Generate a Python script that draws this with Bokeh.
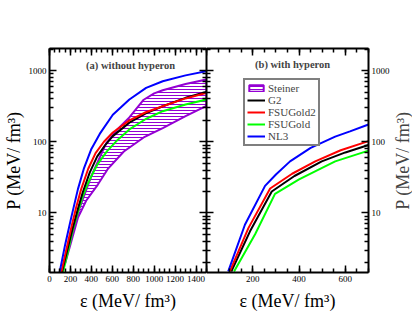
import math
from bokeh.plotting import figure
from bokeh.layouts import row
from bokeh.models import (Range1d, LinearAxis, LogAxis, FixedTicker, SingleIntervalTicker,
                          Legend, LegendItem, Label, NumeralTickFormatter)
from bokeh.embed import file_html
from bokeh.resources import INLINE

FONT = "Liberation Serif"

# ---------------- data (energy density MeV/fm^3, pressure MeV/fm^3) ----------------
# (a) without hyperon
NL3_A_E = [95, 150, 207, 271, 330, 400, 480, 605, 763, 923, 1082, 1300, 1500]
NL3_A_P = [1.42, 3.6, 8.5, 21.4, 42.7, 79.4, 129, 240, 393, 573, 711, 859, 984]
FSUG2_A_E = [112, 160, 207, 255, 302, 370, 440, 520, 605, 763, 920, 1082, 1300, 1500]
FSUG2_A_P = [1.45, 3.0, 6.1, 12.0, 21.4, 41.7, 69.2, 100, 135, 200, 260, 316, 407, 488]
G2_A_E = [118, 170, 220, 270, 318, 385, 455, 530, 605, 763, 920, 1082, 1300, 1500]
G2_A_P = [1.45, 3.0, 6.0, 11.2, 19.5, 37.2, 61.7, 89, 120, 186, 251, 316, 415, 502]
FSUG_A_E = [128, 175, 225, 271, 320, 366, 415, 462, 550, 653, 763, 920, 1082, 1300, 1500]
FSUG_A_P = [1.45, 2.8, 5.9, 10.2, 17.4, 25.7, 36.3, 49, 74, 107, 149, 209, 269, 335, 393]
STEINER_UP_E = [150, 271, 400, 541, 650, 763, 900, 1000, 1082, 1300, 1500]
STEINER_UP_P = [1.96, 10, 33, 95, 150, 220, 390, 480, 530, 650, 751]
STEINER_LO_E = [150, 271, 350, 462, 560, 710, 900, 1082, 1300, 1500]
STEINER_LO_P = [1.96, 8.5, 14.8, 25, 42, 73, 115, 156, 230, 320]

# (b) with hyperon
NL3_B_E = [94, 166, 253, 300, 361, 450, 556, 620, 700]
NL3_B_P = [1.5, 6.8, 24, 34.7, 53, 82, 118, 140, 175]
FSUG2_B_E = [101, 181, 275, 370, 470, 580, 700]
FSUG2_B_P = [1.5, 6.1, 22, 35.5, 53, 76, 102]
G2_B_E = [107, 188, 282, 380, 498, 600, 700]
G2_B_P = [1.5, 5.5, 20, 33, 53, 70.8, 90]
FSUG_B_E = [119, 210, 296, 400, 480, 556, 700]
FSUG_B_P = [1.5, 5.0, 18.5, 29.5, 40, 53, 75]

Y_MAJOR = [1, 10, 100, 1000]
Y_MINOR = [2, 3, 4, 5, 6, 7, 8, 9, 20, 30, 40, 50, 60, 70, 80, 90,
           200, 300, 400, 500, 600, 700, 800, 900, 2000]

PURPLE = "#9400d3"
COLORS = {"G2": "#000000", "FSUGold2": "#ff0000", "FSUGold": "#00ff00", "NL3": "#0000ff"}

Y_LABEL = "P (MeV/ fm³)"
X_LABEL = "ε (MeV/ fm³)"

FRAME_H = 224
TOP_B = 48
BOT_B = 38


def style_axis(ax, labels=True):
    ax.axis_line_width = 2
    ax.axis_line_color = "black"
    ax.major_tick_in = 7
    ax.major_tick_out = 0
    ax.minor_tick_in = 4
    ax.minor_tick_out = 0
    ax.major_tick_line_width = 1.5
    ax.minor_tick_line_width = 1.5
    ax.major_tick_line_color = "black"
    ax.minor_tick_line_color = "black"
    ax.major_label_text_font = FONT
    ax.major_label_text_color = "black"
    if labels:
        ax.major_label_text_font_size = "9px"
        ax.major_label_standoff = 3
    else:
        ax.major_label_text_alpha = 0
        ax.major_label_text_font_size = "1px"
        ax.major_label_standoff = 0
        ax.axis_label = None
    ax.axis_label_text_font = FONT
    ax.axis_label_text_font_style = "normal"
    ax.axis_label_text_font_size = "18px"
    ax.axis_label_text_color = "black"


def make_fig(xmax, fw, left_border, right_border):
    p = figure(y_axis_type="log", x_range=Range1d(0, xmax), y_range=Range1d(1.45, 2050),
               frame_width=fw, frame_height=FRAME_H, output_backend="svg", toolbar_location=None,
               min_border_left=left_border, min_border_right=right_border,
               min_border_top=TOP_B, min_border_bottom=BOT_B)
    p.outline_line_color = None
    p.xgrid.visible = False
    p.ygrid.visible = False
    p.background_fill_color = "white"
    p.border_fill_color = "white"
    p.xaxis.ticker = SingleIntervalTicker(interval=200, num_minor_ticks=4)
    p.yaxis.ticker = FixedTicker(ticks=Y_MAJOR, minor_ticks=Y_MINOR)
    p.yaxis.formatter = NumeralTickFormatter(format="0")
    p.xaxis.axis_label = X_LABEL
    style_axis(p.xaxis[0])
    p.xaxis.axis_label_standoff = 6
    top = LinearAxis(ticker=SingleIntervalTicker(interval=200, num_minor_ticks=4))
    style_axis(top, labels=False)
    p.add_layout(top, "above")
    return p


def steiner(p, **kw):
    return p.patch(STEINER_UP_E + STEINER_LO_E[::-1], STEINER_UP_P + STEINER_LO_P[::-1],
                   fill_alpha=0, line_color=PURPLE, line_width=2,
                   hatch_pattern="horizontal_line", hatch_color=PURPLE, hatch_scale=3,
                   hatch_weight=1, **kw)


# ---------------- left panel ----------------
pa = make_fig(1500, 157, 40, 0)
pa.yaxis.axis_label = Y_LABEL
style_axis(pa.yaxis[0])
pa.yaxis.axis_label_standoff = 2
ra = LogAxis(ticker=FixedTicker(ticks=Y_MAJOR, minor_ticks=Y_MINOR))
style_axis(ra, labels=False)
pa.add_layout(ra, "right")

steiner(pa)
pa.line(FSUG_A_E, FSUG_A_P, line_color=COLORS["FSUGold"], line_width=2)
pa.line(G2_A_E, G2_A_P, line_color=COLORS["G2"], line_width=2)
pa.line(FSUG2_A_E, FSUG2_A_P, line_color=COLORS["FSUGold2"], line_width=2)
pa.line(NL3_A_E, NL3_A_P, line_color=COLORS["NL3"], line_width=2)

pa.add_layout(Label(x=775, y=1183, text="(a) without hyperon", text_font=FONT,
                    text_font_style="bold", text_font_size="10.5px",
                    text_align="center", text_baseline="middle"))

# ---------------- right panel ----------------
pb = make_fig(700, 162, 0, 22)
pb.xaxis.major_label_overrides = {0: ""}
style_axis(pb.yaxis[0], labels=False)
rb = LogAxis(ticker=FixedTicker(ticks=Y_MAJOR, minor_ticks=Y_MINOR),
             formatter=NumeralTickFormatter(format="0"))
style_axis(rb)
pb.add_layout(rb, "right")

st_b = steiner(pb, visible=False)   # legend entry only; band not shown in panel (b)
g_b = pb.line(FSUG_B_E, FSUG_B_P, line_color=COLORS["FSUGold"], line_width=2)
k_b = pb.line(G2_B_E, G2_B_P, line_color=COLORS["G2"], line_width=2)
r_b = pb.line(FSUG2_B_E, FSUG2_B_P, line_color=COLORS["FSUGold2"], line_width=2)
b_b = pb.line(NL3_B_E, NL3_B_P, line_color=COLORS["NL3"], line_width=2)

pb.add_layout(Label(x=372, y=1222, text="(b) with hyperon", text_font=FONT,
                    text_font_style="bold", text_font_size="10.5px",
                    text_align="center", text_baseline="middle"))

legend = Legend(items=[LegendItem(label="Steiner", renderers=[st_b]),
                       LegendItem(label="G2", renderers=[k_b]),
                       LegendItem(label="FSUGold2", renderers=[r_b]),
                       LegendItem(label="FSUGold", renderers=[g_b]),
                       LegendItem(label="NL3", renderers=[b_b])],
                location=(37, 126))
legend.label_text_font = FONT
legend.label_text_font_size = "11px"
legend.label_standoff = 3
legend.glyph_width = 18
legend.glyph_height = 8
legend.label_height = 8
legend.spacing = -1
legend.padding = 2
legend.margin = 0
legend.border_line_color = "black"
legend.border_line_width = 2
legend.background_fill_alpha = 1
legend.inactive_fill_alpha = 0
pb.add_layout(legend, "center")

# ---------------- right-hand axis title strip (reads bottom-to-top) ----------------
pc = figure(x_range=Range1d(0, 1), y_range=Range1d(0, 1), frame_width=20, frame_height=FRAME_H,
            min_border_left=0, min_border_right=0, min_border_top=TOP_B, min_border_bottom=BOT_B,
            x_axis_type=None, y_axis_type=None, output_backend="svg", toolbar_location=None)
pc.outline_line_color = None
pc.xgrid.visible = False
pc.ygrid.visible = False
pc.add_layout(Label(x=0.5, y=0.5, text=Y_LABEL, angle=math.pi / 2, text_font=FONT,
                    text_font_size="18px", text_align="center", text_baseline="middle"))

layout = row(pa, pb, pc, spacing=0)
open("out.html", "w").write(file_html(layout, INLINE))
